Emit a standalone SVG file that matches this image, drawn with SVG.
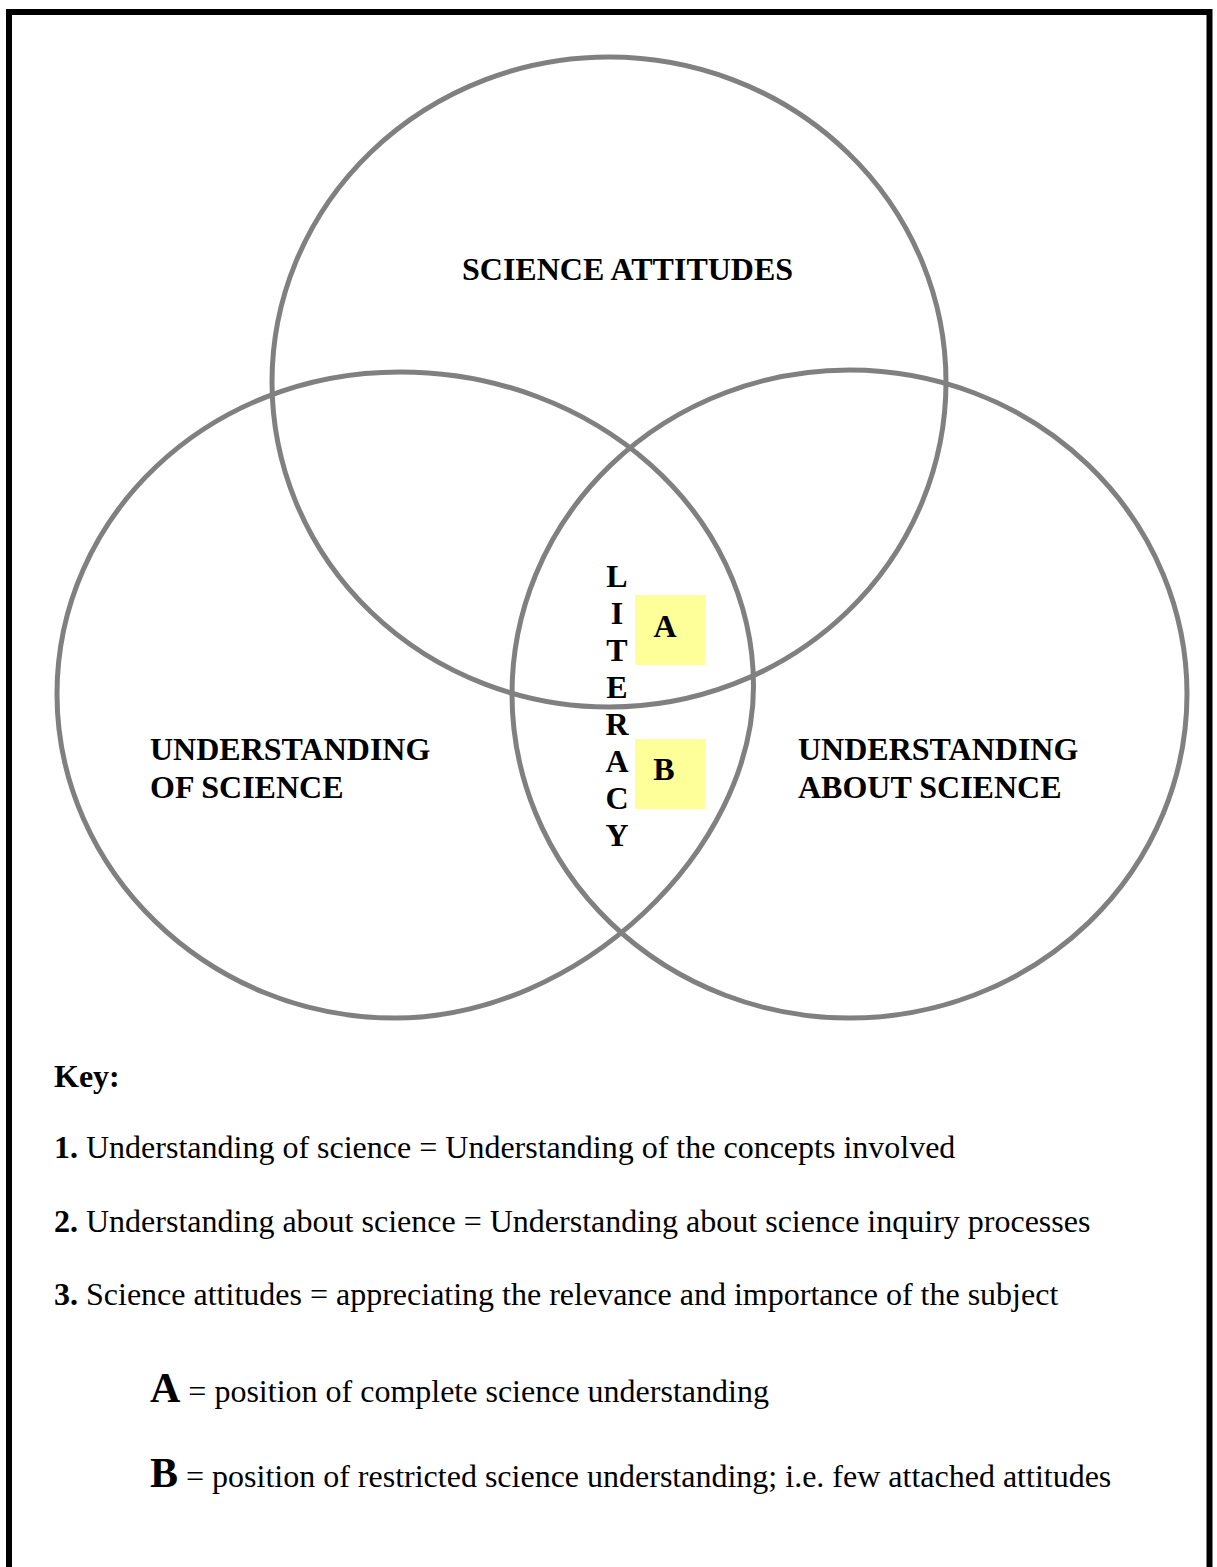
<svg xmlns="http://www.w3.org/2000/svg" width="1217" height="1567" viewBox="0 0 1217 1567">
  <style>
    .ring { fill: none; stroke: #808080; stroke-width: 5; }
    .lbl { font-family: "Liberation Serif", "Times New Roman", serif; font-weight: bold; font-size: 32px; fill: #000; }
    .lit { font-family: "Liberation Serif", "Times New Roman", serif; font-weight: bold; font-size: 32px; fill: #000; text-anchor: middle; }
    .mark { fill: #ffff99; }
    .key { font-family: "Liberation Serif", "Times New Roman", serif; font-size: 32px; fill: #000; }
    .b { font-weight: bold; }
  </style>
  <rect x="0" y="0" width="1217" height="1567" fill="#fff"/>
  <!-- page frame, open at the bottom -->
  <path d="M9,1567 V12 H1209.5 V1567" fill="none" stroke="#000" stroke-width="6"/>

  <g id="science-attitudes">
    <ellipse class="ring" cx="609" cy="382" rx="337" ry="325"/>
    <text class="lbl" x="462" y="280">SCIENCE ATTITUDES</text>
  </g>
  <g id="understanding-of-science">
    <!-- hand-drawn ring: four quarter curves, lower-right one slightly flatter -->
    <path class="ring" d="M400,372 C595,372 753.5,513 753.5,686 C753.5,850 579,1018 395,1018 C207,1018 57,869 57,694 C57,518 206,372 400,372 Z"/>
    <text class="lbl" x="150" y="760">UNDERSTANDING</text>
    <text class="lbl" x="150" y="798">OF SCIENCE</text>
  </g>
  <g id="understanding-about-science">
    <ellipse class="ring" cx="849.5" cy="694" rx="337.5" ry="324"/>
    <text class="lbl" x="798" y="760">UNDERSTANDING</text>
    <text class="lbl" x="798" y="798">ABOUT SCIENCE</text>
  </g>

  <g id="literacy">
    <text class="lit" x="617" y="587">L</text>
    <text class="lit" x="617" y="624">I</text>
    <text class="lit" x="617" y="661">T</text>
    <text class="lit" x="617" y="698">E</text>
    <text class="lit" x="617" y="735">R</text>
    <text class="lit" x="617" y="772">A</text>
    <text class="lit" x="617" y="809">C</text>
    <text class="lit" x="617" y="846">Y</text>
  </g>
  <g id="position-a">
    <rect class="mark" x="635" y="595" width="70" height="70"/>
    <text class="lit" x="665" y="637" font-size="30">A</text>
  </g>
  <g id="position-b">
    <rect class="mark" x="635" y="739" width="70" height="70"/>
    <text class="lit" x="664" y="780" font-size="31">B</text>
  </g>

  <g id="key">
    <text class="key b" x="54" y="1087" font-size="30">Key:</text>
    <text class="key" x="54" y="1158"><tspan class="b">1.</tspan> Understanding of science = Understanding of the concepts involved</text>
    <text class="key" x="54" y="1232"><tspan class="b">2.</tspan> Understanding about science = Understanding about science inquiry processes</text>
    <text class="key" x="54" y="1305"><tspan class="b">3.</tspan> Science attitudes = appreciating the relevance and importance of the subject</text>
    <text class="key" x="150" y="1402"><tspan class="b" font-size="42">A</tspan> = position of complete science understanding</text>
    <text class="key" x="150" y="1487"><tspan class="b" font-size="42">B</tspan> = position of restricted science understanding; i.e. few attached attitudes</text>
  </g>
</svg>
